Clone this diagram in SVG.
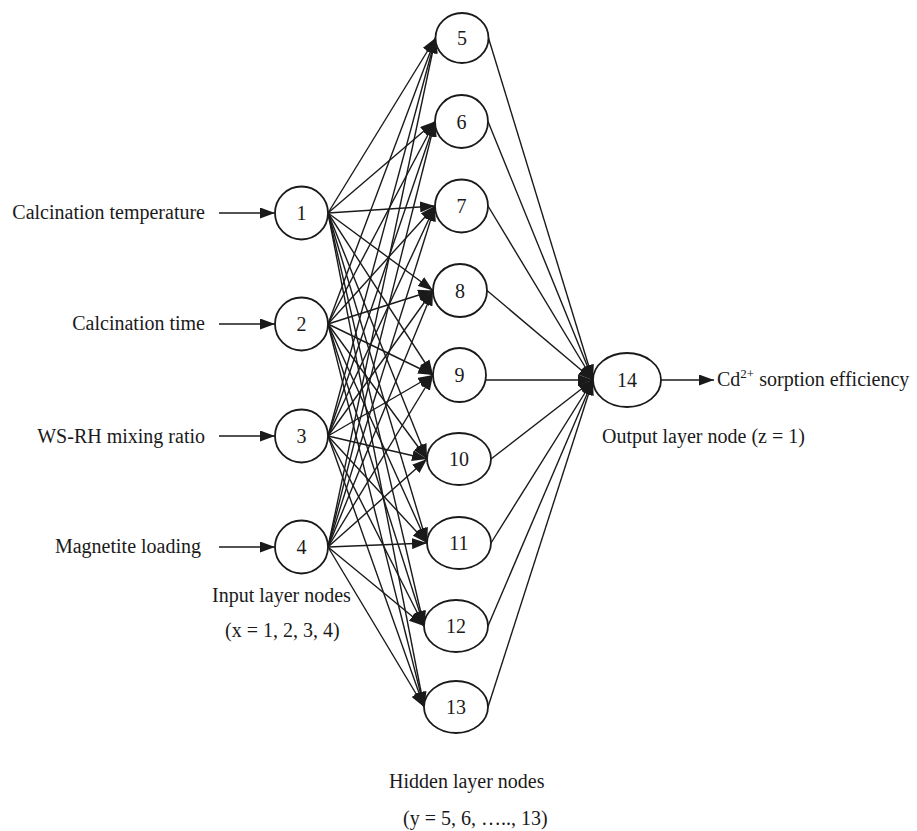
<svg xmlns="http://www.w3.org/2000/svg" width="917" height="831" viewBox="0 0 917 831">
  <style>
    text { font-family: "Liberation Serif", "Times New Roman", serif; font-size: 20px; fill: #1a1a1a; }
    .node { fill: #ffffff; stroke: #1a1a1a; stroke-width: 1.8; }
    .num { text-anchor: middle; }
    .edge { stroke: #1a1a1a; stroke-width: 1.4; fill: none; marker-end: url(#arrow); }
    .label-r { text-anchor: end; }
  </style>
  <defs>
    <marker id="arrow" markerUnits="userSpaceOnUse" markerWidth="15" markerHeight="11" refX="15" refY="5.5" orient="auto">
      <path d="M0,0 L15,5.5 L0,11 z" fill="#1a1a1a"/>
    </marker>
  </defs>

  <!-- connectors -->
  <g id="connectors">
    <!-- input labels to input nodes -->
    <line class="edge" x1="219" y1="213" x2="275" y2="213"/>
    <line class="edge" x1="219" y1="324" x2="275" y2="324"/>
    <line class="edge" x1="219" y1="436" x2="275" y2="436"/>
    <line class="edge" x1="219" y1="547" x2="275" y2="547"/>

    <!-- input node 1 to hidden nodes -->
    <line class="edge" x1="328" y1="213" x2="435.5" y2="38"/>
    <line class="edge" x1="328" y1="213" x2="435" y2="121.5"/>
    <line class="edge" x1="328" y1="213" x2="435" y2="206"/>
    <line class="edge" x1="328" y1="213" x2="433" y2="290.5"/>
    <line class="edge" x1="328" y1="213" x2="433" y2="375"/>
    <line class="edge" x1="328" y1="213" x2="427" y2="459"/>
    <line class="edge" x1="328" y1="213" x2="427" y2="543"/>
    <line class="edge" x1="328" y1="213" x2="424" y2="626"/>
    <line class="edge" x1="328" y1="213" x2="424" y2="707"/>

    <!-- input node 2 to hidden nodes -->
    <line class="edge" x1="328" y1="324" x2="435.5" y2="38"/>
    <line class="edge" x1="328" y1="324" x2="435" y2="121.5"/>
    <line class="edge" x1="328" y1="324" x2="435" y2="206"/>
    <line class="edge" x1="328" y1="324" x2="433" y2="290.5"/>
    <line class="edge" x1="328" y1="324" x2="433" y2="375"/>
    <line class="edge" x1="328" y1="324" x2="427" y2="459"/>
    <line class="edge" x1="328" y1="324" x2="427" y2="543"/>
    <line class="edge" x1="328" y1="324" x2="424" y2="626"/>
    <line class="edge" x1="328" y1="324" x2="424" y2="707"/>

    <!-- input node 3 to hidden nodes -->
    <line class="edge" x1="328" y1="436" x2="435.5" y2="38"/>
    <line class="edge" x1="328" y1="436" x2="435" y2="121.5"/>
    <line class="edge" x1="328" y1="436" x2="435" y2="206"/>
    <line class="edge" x1="328" y1="436" x2="433" y2="290.5"/>
    <line class="edge" x1="328" y1="436" x2="433" y2="375"/>
    <line class="edge" x1="328" y1="436" x2="427" y2="459"/>
    <line class="edge" x1="328" y1="436" x2="427" y2="543"/>
    <line class="edge" x1="328" y1="436" x2="424" y2="626"/>
    <line class="edge" x1="328" y1="436" x2="424" y2="707"/>

    <!-- input node 4 to hidden nodes -->
    <line class="edge" x1="328" y1="547" x2="435.5" y2="38"/>
    <line class="edge" x1="328" y1="547" x2="435" y2="121.5"/>
    <line class="edge" x1="328" y1="547" x2="435" y2="206"/>
    <line class="edge" x1="328" y1="547" x2="433" y2="290.5"/>
    <line class="edge" x1="328" y1="547" x2="433" y2="375"/>
    <line class="edge" x1="328" y1="547" x2="427" y2="459"/>
    <line class="edge" x1="328" y1="547" x2="427" y2="543"/>
    <line class="edge" x1="328" y1="547" x2="424" y2="626"/>
    <line class="edge" x1="328" y1="547" x2="424" y2="707"/>

    <!-- hidden nodes to output node -->
    <line class="edge" x1="488.5" y1="38" x2="593" y2="380"/>
    <line class="edge" x1="488" y1="121.5" x2="593" y2="380"/>
    <line class="edge" x1="488" y1="206" x2="593" y2="380"/>
    <line class="edge" x1="487" y1="290.5" x2="593" y2="380"/>
    <line class="edge" x1="486" y1="380" x2="593" y2="380"/>
    <line class="edge" x1="491" y1="459" x2="593" y2="380"/>
    <line class="edge" x1="491" y1="543" x2="593" y2="380"/>
    <line class="edge" x1="488" y1="626" x2="593" y2="380"/>
    <line class="edge" x1="488" y1="707" x2="593" y2="380"/>

    <!-- output node to result -->
    <line class="edge" x1="661" y1="380" x2="714" y2="380"/>
  </g>

  <!-- input layer -->
  <g id="node-1"><circle class="node" cx="301.5" cy="213" r="26.5"/><text class="num" x="301.5" y="220">1</text></g>
  <g id="node-2"><circle class="node" cx="301.5" cy="324" r="26.5"/><text class="num" x="301.5" y="331">2</text></g>
  <g id="node-3"><circle class="node" cx="301.5" cy="436" r="26.5"/><text class="num" x="301.5" y="443">3</text></g>
  <g id="node-4"><circle class="node" cx="301.5" cy="547" r="26.5"/><text class="num" x="301.5" y="554">4</text></g>

  <!-- hidden layer -->
  <g id="node-5"><ellipse class="node" cx="462" cy="38" rx="26.5" ry="25"/><text class="num" x="462" y="45">5</text></g>
  <g id="node-6"><ellipse class="node" cx="461.5" cy="121.5" rx="26.5" ry="26.5"/><text class="num" x="461.5" y="128.5">6</text></g>
  <g id="node-7"><ellipse class="node" cx="461.5" cy="206" rx="26.5" ry="26.5"/><text class="num" x="461.5" y="213">7</text></g>
  <g id="node-8"><ellipse class="node" cx="460" cy="290.5" rx="27" ry="26.5"/><text class="num" x="460" y="297.5">8</text></g>
  <g id="node-9"><ellipse class="node" cx="459.5" cy="375" rx="26.5" ry="27"/><text class="num" x="459.5" y="382">9</text></g>
  <g id="node-10"><ellipse class="node" cx="459" cy="459" rx="32" ry="26"/><text class="num" x="459" y="466">10</text></g>
  <g id="node-11"><ellipse class="node" cx="459" cy="543" rx="32" ry="26"/><text class="num" x="459" y="550">11</text></g>
  <g id="node-12"><ellipse class="node" cx="456" cy="626" rx="32" ry="26"/><text class="num" x="456" y="633">12</text></g>
  <g id="node-13"><ellipse class="node" cx="456" cy="707" rx="32" ry="26"/><text class="num" x="456" y="714">13</text></g>

  <!-- output layer -->
  <g id="node-14"><ellipse class="node" cx="627" cy="380" rx="34" ry="27"/><text class="num" x="627" y="387">14</text></g>

  <!-- labels -->
  <g id="labels">
    <text class="label-r" x="205" y="219">Calcination temperature</text>
    <text class="label-r" x="205" y="330">Calcination time</text>
    <text class="label-r" x="205" y="443">WS-RH mixing ratio</text>
    <text class="label-r" x="201" y="553">Magnetite loading</text>
    <text x="212" y="602">Input layer nodes</text>
    <text x="225" y="637">(x = 1, 2, 3, 4)</text>
    <text x="717" y="386">Cd<tspan font-size="13" dy="-8">2+</tspan><tspan dy="8"> sorption efficiency</tspan></text>
    <text x="602" y="443">Output layer node (z = 1)</text>
    <text x="389" y="788">Hidden layer nodes</text>
    <text x="403" y="825">(y = 5, 6, ….., 13)</text>
  </g>
</svg>
